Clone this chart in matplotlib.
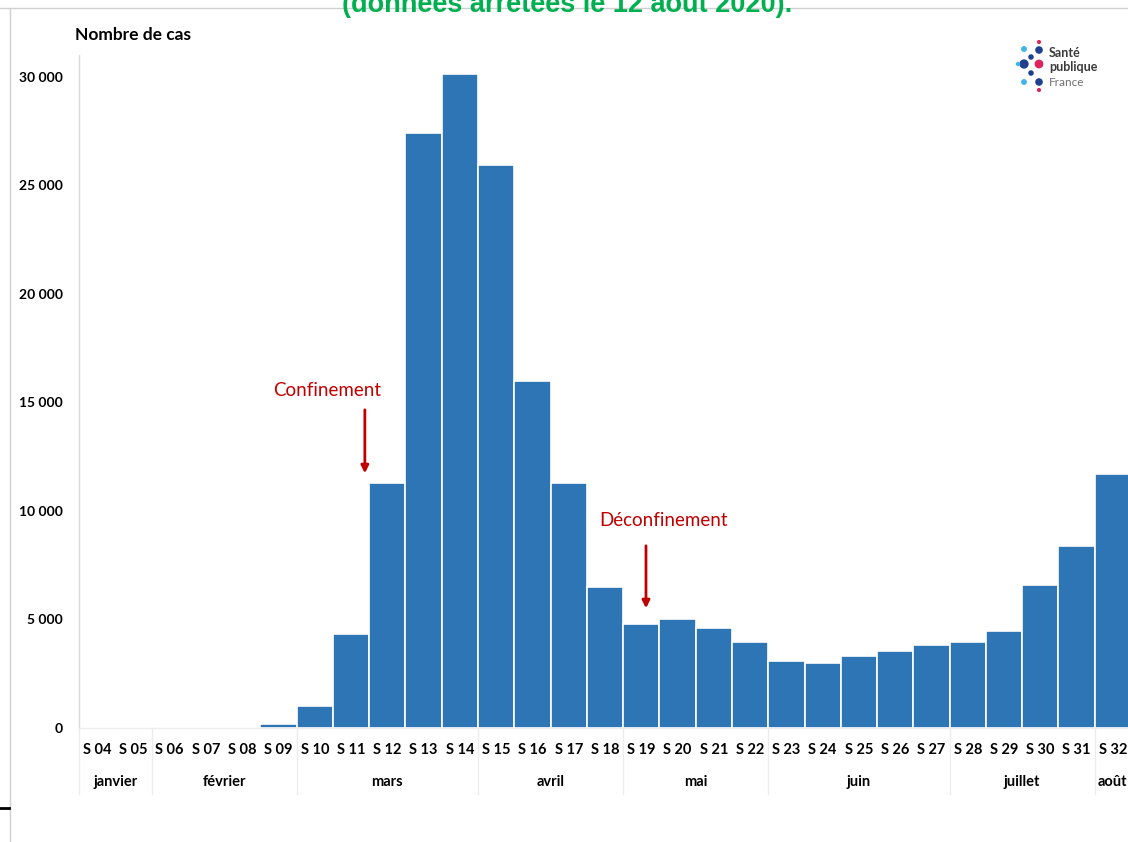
import matplotlib
matplotlib.use("Agg")
import matplotlib.pyplot as plt

weeks = ["S 04", "S 05", "S 06", "S 07", "S 08", "S 09", "S 10", "S 11", "S 12", "S 13",
         "S 14", "S 15", "S 16", "S 17", "S 18", "S 19", "S 20", "S 21", "S 22", "S 23",
         "S 24", "S 25", "S 26", "S 27", "S 28", "S 29", "S 30", "S 31", "S 32"]
cases = [0, 0, 0, 10, 20, 180, 1000, 4330, 11290, 27420,
         30140, 25940, 15990, 11270, 6500, 4790, 5020, 4610, 3960, 3090,
         3000, 3320, 3550, 3820, 3960, 4470, 6590, 8390, 11700]
months = ["janvier", "février", "mars", "avril", "mai", "juin", "juillet", "août"]
month_weeks = [2, 4, 5, 4, 4, 5, 4, 1]
yticks = [0, 5000, 10000, 15000, 20000, 25000, 30000]

W, H = 1128, 842
fig = plt.figure(figsize=(W / 100, H / 100), dpi=100)
FONT = ["Lato", "DejaVu Sans"]

def fx(px):
    return px / W

def fy(py):
    return 1 - py / H

# overlay axes in pixel coordinates (for screenshot frame lines and logo)
ov = fig.add_axes([0, 0, 1, 1], zorder=-1)
ov.set_xlim(0, W)
ov.set_ylim(H, 0)
ov.axis("off")
ov.plot([0, W], [8, 8], color="#d0d0d0", lw=1)
ov.plot([10, 10], [8, H], color="#d0d0d0", lw=1)
ov.plot([0, 9], [808, 808], color="black", lw=2)

ax_left, ax_right = 79, 1131
ax_bottom, ax_top = 728, 55.3
ax = fig.add_axes([fx(ax_left), fy(ax_bottom), fx(ax_right - ax_left), fy(ax_top) - fy(ax_bottom)])
ax.patch.set_alpha(0)
x = list(range(len(weeks)))
ax.bar(x, cases, width=1.0, color="#2E75B6", edgecolor="white", linewidth=1.2, zorder=2)
ax.set_xlim(-0.5, len(weeks) - 0.5)
ax.set_ylim(0, 31000)
for s in ["top", "right"]:
    ax.spines[s].set_visible(False)
ax.spines["left"].set_color("#d9d9d9")
ax.spines["left"].set_linewidth(1)
ax.spines["bottom"].set_color("#eeeeee")
ax.spines["bottom"].set_linewidth(1)
ax.set_xticks([])
ax.set_yticks(yticks)
ax.set_yticklabels([f"{v:,}".replace(",", " ") for v in yticks], fontsize=10, fontweight="bold", family=FONT)
ax.tick_params(axis="y", length=0, pad=11.5)

# week labels
trans = ax.get_xaxis_transform()
for i, w in enumerate(weeks):
    ax.text(i, -0.032, w, transform=trans, ha="center", va="center", fontsize=10.5,
            fontweight="bold", family=FONT, clip_on=False)
# month labels and separators
start = 0
for m, n in zip(months, month_weeks):
    c = start + (n - 1) / 2
    ax.text(c, -0.081, m, transform=trans, ha="center", va="center", fontsize=10.5,
            fontweight="bold", family=FONT, clip_on=False)
    ax.plot([start - 0.5, start - 0.5], [0, -0.098], transform=trans, color="#ececec",
            lw=1, clip_on=False)
    start += n

# annotations
ax.text(6.34, 15576, "Confinement", color="#C00000", fontsize=13.5, ha="center", va="center", family=FONT)
ax.annotate("", xy=(7.38, 11610), xytext=(7.38, 14790),
            arrowprops=dict(arrowstyle="-|>", color="#C00000", lw=2, mutation_scale=11))
ax.text(15.62, 9540, "Déconfinement", color="#C00000", fontsize=13.5, ha="center", va="center", family=FONT)
ax.annotate("", xy=(15.13, 5390), xytext=(15.13, 8525),
            arrowprops=dict(arrowstyle="-|>", color="#C00000", lw=2, mutation_scale=11))

# y title
fig.text(fx(75), fy(35), "Nombre de cas", fontsize=12.5, fontweight="bold", family=FONT, va="center", ha="left")

# clipped title
fig.text(fx(567), fy(12), "(données arrêtées le 12 août 2020).", color="#00B050", fontsize=19.5,
         fontweight="bold", family=["Liberation Sans", "DejaVu Sans"], ha="center", va="baseline")

# logo
dots_x = [1024, 1039, 1039, 1031, 1024, 1018, 1039, 1031, 1024, 1039, 1039]
dots_y = [49, 42, 50, 57, 64, 64, 64, 73, 82, 82, 90]
dots_c = ["#3fb3e6", "#e0245e", "#1f3f8f", "#1f3f8f", "#1f3f8f", "#3fb3e6", "#e0245e",
          "#1f3f8f", "#3fb3e6", "#1f3f8f", "#e0245e"]
dots_s = [18, 9, 30, 16, 45, 10, 40, 16, 18, 30, 9]
ov.scatter(dots_x, dots_y, s=dots_s, c=dots_c, linewidths=0)
ov.text(1049, 53, "Santé", fontsize=9, fontweight="bold", color="#3a3a3a", family=FONT, va="center")
ov.text(1049, 67, "publique", fontsize=9, fontweight="bold", color="#3a3a3a", family=FONT, va="center")
ov.text(1049, 82, "France", fontsize=8.5, color="#707070", family=FONT, va="center")

fig.savefig("out.png", dpi=100)
